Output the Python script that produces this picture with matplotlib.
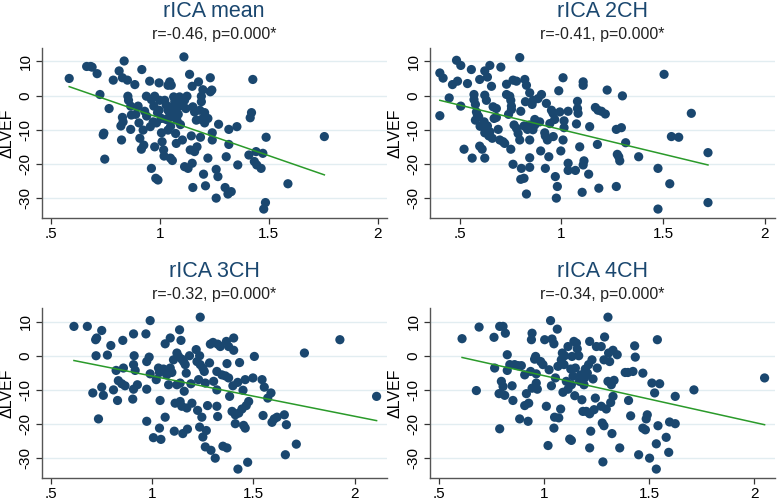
import matplotlib.pyplot as plt
import numpy as np

plt.rcParams['font.family'] = ['Liberation Sans', 'DejaVu Sans']

# panel titles / stats
titles = ["rICA mean", "rICA 2CH", "rICA 3CH", "rICA 4CH"]
subtitles = ["r=-0.46, p=0.000*", "r=-0.41, p=0.000*",
             "r=-0.32, p=0.000*", "r=-0.34, p=0.000*"]

# rICA mean
mean_x = [0.585, 0.665, 0.683, 0.69, 0.713, 0.726, 0.768, 0.744, 0.741, 0.748,
          0.787, 0.814, 0.837, 0.829, 0.852, 0.886, 0.918, 0.854, 0.857, 0.867,
          0.870, 0.890, 0.901, 0.829, 0.832, 0.822, 0.867, 0.905, 0.924, 0.909,
          0.927, 0.916, 0.825, 0.931, 0.939, 0.954, 0.962, 0.973, 0.957, 0.970,
          0.977, 0.997, 1.0, 0.997, 1.008, 0.985, 0.962, 0.977, 0.982, 0.992,
          1.008, 1.011, 1.018, 1.02, 1.038, 1.046, 1.053, 1.023, 1.03, 1.038,
          1.046, 1.053, 1.061, 1.064, 1.069, 1.076, 1.079, 1.038, 1.049, 1.058,
          1.073, 1.076, 1.091, 1.091, 1.099, 1.104, 1.114, 1.125, 1.111, 1.104,
          1.114, 1.130, 1.137, 1.145, 1.14, 1.16, 1.149, 1.152, 1.149, 1.152,
          1.16, 1.168, 1.178, 1.191, 1.191, 1.184, 1.191, 1.198, 1.206, 1.206,
          1.187, 1.171, 1.201, 1.210, 1.221, 1.221, 1.232, 1.232, 1.239, 1.241,
          1.241, 1.259, 1.267, 1.259, 1.27, 1.305, 1.3, 1.313, 1.328, 1.317,
          1.317, 1.358, 1.354, 1.409, 1.415, 1.421, 1.427, 1.434, 1.442, 1.445,
          1.465, 1.473, 1.477, 1.485, 1.488, 1.588, 1.755,
          1.07, 1.085, 1.12, 1.05, 1.095, 0.94, 0.99, 1.03]
mean_y = [5, 8.5, 8.5, 8.3, 6.4, 0.3, -3.8, -11, -11.5, -18.6,
          4.5, 7.2, 10.1, 5.2, 4.5, 3.2, 7.6, -0.2, -1.4, -3.1,
          -5.7, -5.5, -3.1, -6.4, -7.7, -8.9, -9.9, -8, -10.1, -12.5,
          -14.5, -15.7, -13, -4.6, -0.2, 4.2, -1.2, -3.1, -9.1, -7.7,
          -0.2, 3.7, -1.4, -4.3, -6.7, -8, -21.3, -15, -24.2, -24.7,
          -10.9, -13.5, -15.9, -17.7, 3, 4, 3, -1.4, -2.8, -4.3,
          -5.2, -6.2, -3.3, -0.4, -1.8, -4.8, -7.2, -10.1, -18.3, -19,
          -11.1, -14, -3.1, -0.4, -1.4, -2.3, -1.4, -0.2, 11.3, -13,
          -20.8, -21.3, 6.2, -11.8, -15.9, -16.4, -19.8, -26.9, 2.7, -3.3,
          -4.8, -7.2, 4, -0.2, -1.8, -4.3, -7, 1.7, -5, -8,
          -12.2, -15, -23, -26.4, -18.3, -6.7, 5.2, 1.1, 1.6, -10.9,
          -13, -21.6, -23.7, -30, -8.4, -17.9, -26.9, -28.8, -28.1, -9.9,
          -14.3, -20.3, -9.1, -17.4, -6.5, -5, 4.7, -19.3, -16.4, -20.3,
          -21.3, -16.9, -33.2, -31.3, -12.2, -25.8, -12,
          -2.5, -5.5, -3.8, -9, -8.5, -6, -5, -7]

# rICA 2CH
ch2_x = [0.402, 0.402, 0.418, 0.448, 0.464, 0.484, 0.489, 0.505, 0.505, 0.521,
         0.538, 0.557, 0.561, 0.57, 0.57, 0.577, 0.582, 0.587, 0.577, 0.593,
         0.598, 0.598, 0.61, 0.623, 0.623, 0.636, 0.648, 0.623, 0.631, 0.62,
         0.623, 0.636, 0.643, 0.648, 0.656, 0.664, 0.669, 0.680, 0.680, 0.689,
         0.702, 0.697, 0.713, 0.721, 0.730, 0.730, 0.746, 0.751, 0.754, 0.754,
         0.751, 0.762, 0.762, 0.779, 0.767, 0.779, 0.787, 0.795, 0.8, 0.795,
         0.803, 0.8, 0.816, 0.816, 0.820, 0.828, 0.823, 0.833, 0.828, 0.844,
         0.844, 0.844, 0.844, 0.844, 0.856, 0.861, 0.869, 0.869, 0.885, 0.902,
         0.893, 0.898, 0.918, 0.921, 0.921, 0.926, 0.931, 0.938, 0.943, 0.951,
         0.959, 0.967, 0.970, 0.975, 0.98, 0.987, 0.992, 0.997, 1.008, 1.013,
         1.013, 1.008, 1.033, 1.033, 1.033, 1.069, 1.074, 1.079, 1.079, 1.082,
         1.090, 1.107, 1.107, 1.102, 1.111, 1.107, 1.134, 1.139, 1.167, 1.180,
         1.177, 1.184, 1.197, 1.216, 1.225, 1.270, 1.275, 1.282, 1.287, 1.270,
         1.295, 1.3, 1.316, 1.380, 1.475, 1.475, 1.505, 1.533, 1.541, 1.577,
         1.639, 1.721, 1.721,
         0.6, 0.66, 0.74, 0.86, 0.96]
ch2_y = [-5.9, 6.6, 5.1, -0.7, 3.2, 10.3, 4.2, 8.8, -3.1, -15.7,
         3.5, 7.6, -18.3, 0.3, -1.2, -2.6, -4.8, -5.7, -7.2, -6.2,
         4.7, -14.8, -15.7, -18.3, 7.2, 5.4, 8.8, 0.1, -1.4, -7.7,
         -10.9, -8.9, -11.8, -10.6, 2.7, -3.3, -6.7, -3.8, -6.4, -9.9,
         8.3, -13, -13.5, -14, 3.3, 0.3, -0.2, -1.4, -3.1, -4.1,
         -15.7, 4.5, -20.1, 4.2, -8.6, -9.6, -11.1, 11.1, -4.6, -13,
         -21.3, -24.5, -24.2, -8.9, 4.7, 3, -1.8, -9.9, -28.8, 0.8,
         -8.6, -13, -18.2, -21, -2.6, -1.4, -7, -8.6, -0.9, 0.3,
         -7.7, -16.2, -10.9, -11.8, -21.3, -2.3, -13, -17.9, -8.2, -4.3,
         -5.2, -7, -23.7, -30, -26.6, 1.4, -4.8, -16.2, 5.2, -7.4,
         -9.4, -13, -4.6, -19.8, -21.9, -21.9, -8.3, -1.7, -3.8, -5.2,
         -15, 4, 3, -28.3, -19.1, -20.3, -23, -9.1, -3.5, -4.3,
         -14.3, -27.1, -4.6, -5.4, 1.6, -9.9, -17.2, -17.9, -19.1, -26.6,
         -9.4, -0.1, -13.8, -17.9, -21.3, -33.2, 6.2, -25.8, -12, -12.2,
         -5.2, -16.7, -31.3,
         -9, -12.5, -5.5, -10, -12]

# rICA 3CH
ch3_x = [0.615, 0.681, 0.752, 0.722, 0.727, 0.724, 0.780, 0.797, 0.708, 0.752,
         0.760, 0.736, 0.810, 0.823, 0.830, 0.834, 0.856, 0.859, 0.851, 0.867,
         0.909, 0.912, 0.909, 0.917, 0.909, 0.905, 0.928, 0.970, 0.974, 0.986,
         0.974, 0.974, 0.991, 0.991, 1.007, 1.021, 1.032, 1.037, 1.040, 1.037,
         1.044, 1.057, 1.065, 1.065, 1.073, 1.082, 1.090, 1.090, 1.098, 1.106,
         1.110, 1.114, 1.123, 1.123, 1.131, 1.136, 1.139, 1.143, 1.139, 1.147,
         1.147, 1.152, 1.156, 1.159, 1.164, 1.169, 1.172, 1.175, 1.185, 1.192,
         1.197, 1.218, 1.222, 1.225, 1.230, 1.235, 1.238, 1.238, 1.235, 1.246,
         1.251, 1.251, 1.258, 1.263, 1.263, 1.268, 1.274, 1.284, 1.288, 1.291,
         1.301, 1.304, 1.312, 1.320, 1.320, 1.320, 1.324, 1.324, 1.337, 1.345,
         1.350, 1.362, 1.367, 1.370, 1.370, 1.378, 1.378, 1.383, 1.395, 1.399,
         1.403, 1.403, 1.411, 1.411, 1.423, 1.424, 1.428, 1.432, 1.444, 1.449,
         1.452, 1.460, 1.460, 1.465, 1.472, 1.477, 1.498, 1.505, 1.543, 1.548,
         1.554, 1.571, 1.587, 1.592, 1.603, 1.617, 1.653, 1.658, 1.663, 1.712,
         1.752, 1.927, 2.108]
ch3_y = [8.6, 8.6, 7.4, 4.7, 5.2, 0, 0.2, 3, -10.9, -9.2,
         -11.6, -18.5, -10, -4.3, -13.1, -7.3, 4.5, -3.6, -8.2, -8.8,
         6.4, 0, -2.6, -4.3, -9.8, -12.7, -8.5, 6.4, -1.7, -0.4,
         -9.8, -19.2, 10.3, -5.3, -24, -7, -3.6, -4.9, -13.1, -21.2,
         -24.5, -3.9, 3.5, -18, -5.6, -8.5, 5.2, -3.6, -4.9, -1.2,
         -22.1, -13.9, 0.8, -8.5, -0.2, 7.6, -8, 4.5, -13.4, -14.8,
         -1, -22.8, -1.7, -10.4, -2.6, -5.1, -15.3, -21.5, 0, -8.2,
         -13.9, 1.8, -1.7, -16, -7, 0, 11.3, -2.6, -20.9, -18,
         -3.6, -23.8, -4.6, -8, -26.7, -21.9, -14.6, -2.1, 3.4, -27.7,
         3.9, -7.5, -30, -4.6, -10, -14.8, -17.8, 3.4, 2.7, -5.6,
         -26.5, -5.9, 4.2, -2.3, -27, 2.7, -6.5, -11.9, -16.3, -8.8,
         5.2, 1.6, -17.3, -19.9, -7.8, -33.2, -16.8, -2, -15.6, -10.1,
         -20.4, -7, -21.2, -14.6, -31.2, -13.4, -6.5, -0.2, -7, -17.5,
         -9.2, -12.4, -10.9, -19.5, -18.5, -18, -17.3, -29, -20.2, -25.9,
         0.8, 4.7, -11.9]

# rICA 4CH
ch4_x = [0.611, 0.692, 0.679, 0.763, 0.766, 0.787, 0.790, 0.806, 0.817, 0.798,
         0.806, 0.814, 0.790, 0.826, 0.826, 0.838, 0.849, 0.853, 0.861, 0.877,
         0.885, 0.893, 0.909, 0.909, 0.917, 0.925, 0.928, 0.937, 0.941, 0.944,
         0.944, 0.956, 0.961, 0.964, 0.964, 0.969, 0.985, 0.996, 1.004, 1.012,
         1.020, 1.025, 1.032, 1.036, 1.039, 1.048, 1.048, 1.051, 1.055, 1.064,
         1.067, 1.071, 1.080, 1.083, 1.088, 1.091, 1.096, 1.099, 1.107, 1.115,
         1.115, 1.123, 1.128, 1.131, 1.131, 1.134, 1.139, 1.143, 1.147, 1.150,
         1.155, 1.159, 1.166, 1.170, 1.175, 1.181, 1.186, 1.191, 1.194, 1.197,
         1.202, 1.207, 1.213, 1.218, 1.218, 1.218, 1.223, 1.229, 1.234, 1.239,
         1.245, 1.250, 1.254, 1.273, 1.273, 1.278, 1.281, 1.286, 1.289, 1.286,
         1.297, 1.305, 1.305, 1.308, 1.313, 1.318, 1.321, 1.324, 1.329, 1.329,
         1.334, 1.349, 1.361, 1.387, 1.400, 1.403, 1.413, 1.424, 1.432, 1.435,
         1.451, 1.471, 1.471, 1.483, 1.487, 1.492, 1.503, 1.514, 1.527, 1.535,
         1.540, 1.543, 1.535, 1.551, 1.582, 1.594, 1.598, 1.625, 1.625, 1.714,
         2.050]
ch4_y = [5, 8.4, -10.2, 5.4, -3.6, -11.1, 8.6, 8.6, 6.6, -7.5,
         -9, -11.6, -21.4, 0.3, -4.3, -2.6, -8.8, -13.1, -2.6, -2.9,
         -18.5, -2.9, -5.6, -14.6, -11.1, -19.2, -13.9, -4.6, 4.7, 6.6,
         -9.5, -1, -0.2, -5.3, -8, -9.8, -1.7, -2.6, 4.7, -14.8,
         -26.3, -4.1, 10.3, -8.8, 4.9, 3.5, -21.2, -18, -6.5, 7.8,
         -3.1, -18.2, -15.6, -1.2, 0.8, -10.7, -2.6, 0, -7.5, 2.7,
         -9.8, -24.4, -3.9, -8.5, -24.8, -0.2, -6, 4.2, -11.7, -3.6,
         3.7, 2, 0, -7.5, -5.6, -12.9, -16.3, -8.5, -6.5, -3.9,
         -16.3, -5.1, -2.6, 4.2, -17, -27, -22.1, -1.2, -6.8, -15.8,
         -12.4, 2.7, -3.6, 2.7, -14.8, -19.7, -31.1, -20.5, 5.5, -1.2,
         -15.6, 11.3, -7.5, 0.8, -1.7, -13.7, -8.5, -22.8, -11.9, 1.6,
         -7.2, 0.3, -27, -4.9, -4.9, -13.1, -17.6, -4.6, 2.9, -0.4,
         -29, -5.1, -21.2, -21.7, -18.5, -17.3, -30, -8, -10.9, -25.8,
         4.7, -20.5, -33.2, -8.2, -23.9, -28.3, -19.4, -19.9, -11.9, -10,
         -6.5]

# fitted lines: (intercept, slope)
fit_lines = [(15.5, -22.05), (4.36, -14.33), (5.85, -11.79), (7.86, -13.69)]

panel_x = [mean_x, ch2_x, ch3_x, ch4_x]
panel_y = [mean_y, ch2_y, ch3_y, ch4_y]
xlims = [(0.459, 2.041), (0.352, 2.049), (0.456, 2.158), (0.457, 2.098)]
xticks = [0.5, 1, 1.5, 2]
xticklabels = [".5", "1", "1.5", "2"]
yticks = [-30, -20, -10, 0, 10]

# axes rectangles in figure fractions
rects = [(0.0537, 0.5634, 0.444, 0.3406), (0.553, 0.5634, 0.444, 0.3406),
         (0.0537, 0.0434, 0.444, 0.340), (0.553, 0.0434, 0.444, 0.340)]

navy = "#1a476f"
fig = plt.figure(figsize=(7.77, 5.0), dpi=100)

for i in range(4):
    ax = fig.add_axes(rects[i])
    xs = np.array(panel_x[i])
    ys = np.array(panel_y[i])
    ax.scatter(xs, ys, s=44, color=navy, edgecolors="none", zorder=3)
    b0, b1 = fit_lines[i]
    lx = np.array([xs.min(), xs.max()])
    ax.plot(lx, b0 + b1 * lx, color="#2a9a2a", lw=1.1, zorder=4)

    ax.set_xlim(*xlims[i])
    ax.set_ylim(-35.9, 13.9)
    ax.set_xticks(xticks)
    ax.set_xticklabels(xticklabels)
    ax.set_yticks(yticks)
    ax.set_yticklabels([str(t) for t in yticks], rotation=90, va="center")
    ax.grid(axis="y", color="#e2edf1", lw=1.0, zorder=0)
    ax.set_axisbelow(True)
    for side in ["top", "right"]:
        ax.spines[side].set_visible(False)
    for side in ["left", "bottom"]:
        ax.spines[side].set_color("#555555")
        ax.spines[side].set_linewidth(1.0)
    ax.tick_params(colors="#333333", labelsize=11, length=4.5, width=0.9)
    ax.tick_params(axis="x", labelcolor="black", pad=1.5)
    ax.tick_params(axis="y", labelcolor="black", pad=2)
    ax.set_ylabel("ΔLVEF", fontsize=11.5, labelpad=3)

    ax.text(0.5, 1.183, titles[i], transform=ax.transAxes, ha="center",
            va="baseline", fontsize=15.5, color=navy)
    ax.text(0.5, 1.052, subtitles[i], transform=ax.transAxes, ha="center",
            va="baseline", fontsize=11.5, color="#222222")

plt.savefig("out.png", dpi=100, facecolor="white")
